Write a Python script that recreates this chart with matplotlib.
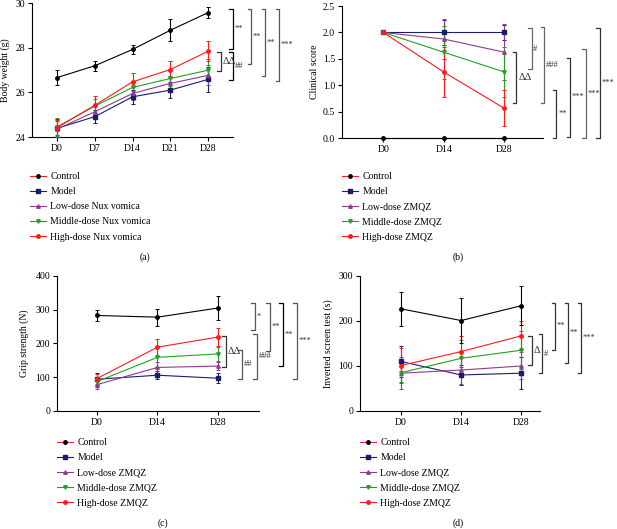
import matplotlib
matplotlib.use("Agg")
import matplotlib.pyplot as plt
from matplotlib.lines import Line2D

plt.rcParams['font.family'] = ['Liberation Serif', 'DejaVu Serif']
plt.rcParams['font.size'] = 7

# ---- data ----
days_a = ['D0', 'D7', 'D14', 'D21', 'D28']
days_3 = ['D0', 'D14', 'D28']

# (a) body weight (g)
control_a = [26.66, 27.19, 27.92, 28.78, 29.57]
control_a_err = [0.35, 0.22, 0.2, 0.5, 0.25]
model_a = [24.39, 24.91, 25.80, 26.10, 26.58]
model_a_err = [0.4, 0.3, 0.3, 0.35, 0.55]
low_a = [24.35, 25.13, 25.95, 26.40, 26.76]
low_a_err = [0.35, 0.3, 0.3, 0.35, 0.45]
mid_a = [24.45, 25.38, 26.22, 26.62, 26.99]
mid_a_err = [0.4, 0.3, 0.3, 0.35, 0.5]
high_a = [24.42, 25.42, 26.47, 27.02, 27.84]
high_a_err = [0.35, 0.4, 0.4, 0.4, 0.45]

# (b) clinical score
control_b = [0, 0, 0]
control_b_err = [0, 0, 0]
model_b = [2, 2, 2]
model_b_err = [0, 0.23, 0.15]
low_b = [2, 1.875, 1.625]
low_b_err = [0, 0.38, 0.53]
mid_b = [2, 1.625, 1.25]
mid_b_err = [0, 0.5, 0.47]
high_b = [2, 1.25, 0.5625]
high_b_err = [0, 0.47, 0.34]

# (c) grip strength (N)
control_c = [283, 278, 305]
control_c_err = [15, 25, 35]
model_c = [94, 106, 97]
model_c_err = [18, 12, 15]
low_c = [78, 129, 133]
low_c_err = [12, 15, 12]
mid_c = [87, 159, 169]
mid_c_err = [15, 30, 22]
high_c = [96, 189, 219]
high_c_err = [15, 25, 27]

# (d) inverted screen test (s)
control_d = [227, 201, 234]
control_d_err = [38, 50, 43]
model_d = [110, 80, 84]
model_d_err = [35, 22, 35]
low_d = [84, 91, 100]
low_d_err = [35, 30, 30]
mid_d = [85, 117, 135]
mid_d_err = [20, 40, 42]
high_d = [101, 132, 167]
high_d_err = [38, 35, 32]

labels_nux = ['Control', 'Model', 'Low-dose Nux vomica', 'Middle-dose Nux vomica', 'High-dose Nux vomica']
labels_zmqz = ['Control', 'Model', 'Low-dose ZMQZ', 'Middle-dose ZMQZ', 'High-dose ZMQZ']

colors = ['black', '#1c1c6e', '#8e3a8e', '#22a022', '#ff1a1a']
markers = ['o', 's', '^', 'v', 'o']

# significance brackets: (x, y_top, y_bottom, text, colour)
brackets_a = [(4.66, 29.75, 27.96, '**', 'black'),
              (4.34, 27.81, 26.95, 'ΔΔ', '#333333'),
              (4.66, 27.80, 26.55, '##', 'black'),
              (5.14, 29.75, 27.26, '**', '#555555'),
              (5.51, 29.75, 26.72, '**', '#555555'),
              (5.88, 29.75, 26.50, '***', '#555555')]
brackets_b = [(2.45, 2.08, 1.31, '#', '#666666'),
              (2.20, 1.63, 0.66, 'ΔΔ', '#333333'),
              (2.66, 2.10, 0.66, '###', '#666666'),
              (2.86, 0.91, 0.0, '**', '#333333'),
              (3.09, 1.52, 0.02, '***', '#333333'),
              (3.35, 1.69, 0.0, '***', '#666666'),
              (3.58, 2.08, 0.0, '***', '#333333')]
brackets_c = [(2.61, 320, 240, '*', '#555555'),
              (2.13, 222, 130, 'ΔΔ', '#333333'),
              (2.40, 181, 95, '##', '#555555'),
              (2.64, 228, 95, '###', '#555555'),
              (2.86, 320, 178, '**', '#555555'),
              (3.07, 320, 133, '**', 'black'),
              (3.31, 320, 95, '***', '#555555')]
brackets_d = [(2.17, 167, 102, 'Δ', '#333333'),
              (2.35, 171, 84, '#', '#333333'),
              (2.56, 240, 136, '**', '#333333'),
              (2.78, 240, 107, '**', '#333333'),
              (2.99, 240, 84, '***', '#333333')]


def draw_panel(ax, days, series, errs, xlim, ylim, yticks, ylabel, yfmt, brackets, lab_x):
    x = list(range(len(days)))
    order = [1, 2, 3, 4, 0]
    for i in order:
        ax.errorbar(x, series[i], yerr=errs[i], color=colors[i], marker=markers[i],
                    ms=2.5, lw=0.8, elinewidth=0.8, capsize=1.5, capthick=0.7,
                    clip_on=False, zorder=3)
    ax.set_xlim(xlim)
    ax.set_ylim(ylim)
    ax.set_xticks(x)
    ax.set_xticklabels(days)
    ax.set_yticks(yticks)
    ax.set_yticklabels([yfmt.format(t) for t in yticks])
    ax.set_ylabel(ylabel)
    ax.yaxis.set_label_coords(lab_x, 0.5)
    for s in ['top', 'right']:
        ax.spines[s].set_visible(False)
    for s in ['left', 'bottom']:
        ax.spines[s].set_linewidth(0.8)
    ax.tick_params(width=0.8, length=3, pad=2)

    tick = 0.018 * (xlim[1] - xlim[0])
    for bx, y0, y1, txt, c in brackets:
        ax.plot([bx - tick, bx, bx, bx - tick], [y0, y0, y1, y1], color=c, lw=0.9,
                clip_on=False)
        if 'Δ' in txt:
            fs = 7.5
        else:
            fs = 6
        ax.text(bx + tick * 0.5, (y0 + y1) / 2, txt, fontsize=fs, ha='left', va='center',
                color='#333333', clip_on=False)


def add_legend(fig, labels, x, y):
    handles = [Line2D([], [], color='#ff1a1a', marker='o', mfc='black', mec='black', ms=2.5, lw=0.8)]
    for i in range(1, 5):
        handles.append(Line2D([], [], color=colors[i], marker=markers[i], ms=2.5, lw=0.8))
    fig.legend(handles, labels, loc='upper left', bbox_to_anchor=(x, y), frameon=False,
               borderpad=0, borderaxespad=0, handlelength=1.6, handletextpad=0.5,
               labelspacing=0.63, fontsize=7)


fig = plt.figure(figsize=(6.17, 5.29), dpi=100)

ax_a = fig.add_axes([0.0519, 0.741, 0.3258, 0.2533])
ax_b = fig.add_axes([0.5543, 0.7391, 0.3258, 0.2495])
ax_c = fig.add_axes([0.0924, 0.2231, 0.3274, 0.2552])
ax_d = fig.add_axes([0.5835, 0.2231, 0.2917, 0.2552])

draw_panel(ax_a, days_a, [control_a, model_a, low_a, mid_a, high_a],
           [control_a_err, model_a_err, low_a_err, mid_a_err, high_a_err],
           (-0.66, 4.66), (24, 30), [24, 26, 28, 30], 'Body weight (g)', '{:.0f}',
           brackets_a, -0.109)
draw_panel(ax_b, days_3, [control_b, model_b, low_b, mid_b, high_b],
           [control_b_err, model_b_err, low_b_err, mid_b_err, high_b_err],
           (-0.68, 2.64), (0, 2.5), [0, 0.5, 1.0, 1.5, 2.0, 2.5], 'Clinical score', '{:.1f}',
           brackets_b, -0.114)
draw_panel(ax_c, days_3, [control_c, model_c, low_c, mid_c, high_c],
           [control_c_err, model_c_err, low_c_err, mid_c_err, high_c_err],
           (-0.66, 2.68), (0, 400), [0, 100, 200, 300, 400], 'Grip strength (N)', '{:.0f}',
           brackets_c, -0.139)
draw_panel(ax_d, days_3, [control_d, model_d, low_d, mid_d, high_d],
           [control_d_err, model_d_err, low_d_err, mid_d_err, high_d_err],
           (-0.68, 2.31), (0, 300), [0, 100, 200, 300], 'Inverted screen test (s)', '{:.0f}',
           brackets_d, -0.15)

W, H = 617.0, 529.0
add_legend(fig, labels_nux, 30 / W, 1 - 172 / H)
add_legend(fig, labels_zmqz, 342 / W, 1 - 172 / H)
add_legend(fig, labels_zmqz, 57 / W, 1 - 438 / H)
add_legend(fig, labels_zmqz, 360 / W, 1 - 438 / H)

fig.text(145 / W, 1 - 257 / H, '(a)', ha='center', va='center', fontsize=7)
fig.text(458 / W, 1 - 257 / H, '(b)', ha='center', va='center', fontsize=7)
fig.text(163 / W, 1 - 523 / H, '(c)', ha='center', va='center', fontsize=7)
fig.text(458 / W, 1 - 523 / H, '(d)', ha='center', va='center', fontsize=7)

fig.savefig('out.png', dpi=100)
